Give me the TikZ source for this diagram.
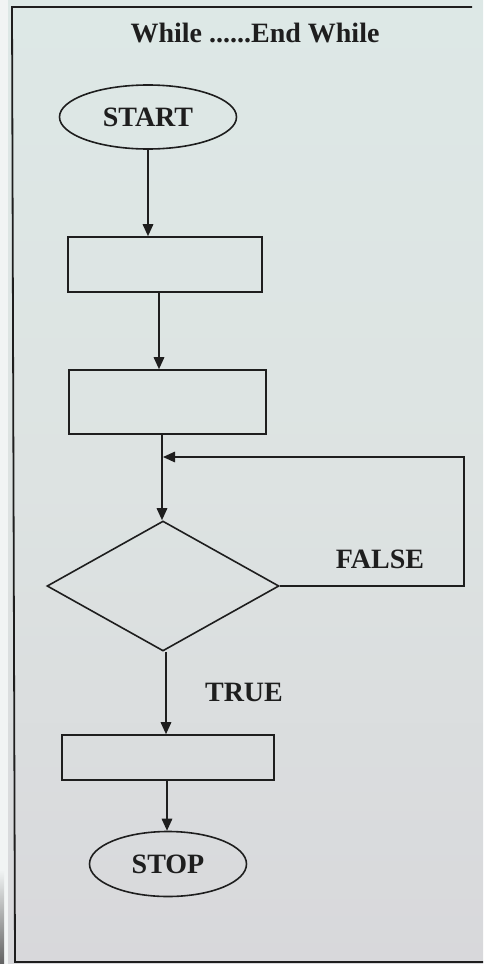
\documentclass[tikz,border=0pt]{standalone}
\usepackage{fontspec}
\setmainfont{Liberation Serif}
\usetikzlibrary{shapes.geometric,arrows.meta,calc}

\definecolor{ink}{HTML}{1E1E1E}
\definecolor{paperTop}{HTML}{DDE8E6}
\definecolor{paperMid}{HTML}{DDE3E2}
\definecolor{paperBot}{HTML}{D8D8DB}
\definecolor{margin}{HTML}{F1F4F4}

\tikzset{
  flow/.style={draw=ink, line width=1.6pt},
  arr/.style={draw=ink, line width=1.6pt, -{Triangle[length=12pt,width=10.5pt]}},
  terminal/.style={flow, ellipse, inner sep=0pt, font=\bfseries\fontsize{28}{30}\selectfont, text=ink},
  procbox/.style={flow, rectangle, inner sep=0pt},
  decision/.style={flow, diamond, inner sep=0pt},
  label/.style={font=\bfseries\fontsize{28}{30}\selectfont, text=ink, inner sep=0pt},
  frame/.style={draw=ink, line width=1.8pt}
}

\begin{document}
\begin{tikzpicture}[x=1pt,y=-1pt]
  % page area
  \useasboundingbox (0,0) rectangle (483,964);
  \fill[margin] (0,0) rectangle (483,964);
  \shade[top color=paperTop, bottom color=paperBot, middle color=paperMid] (8,0) rectangle (483,964);
  \shade[top color=margin, bottom color=ink!70] (0,870) rectangle (4,964);

  % printed frame
  \coordinate (ftl) at (12,7);
  \coordinate (ftr) at (472,7);
  \coordinate (fbl) at (15,962);
  \coordinate (fbr) at (483,962);
  \draw[frame] (ftr) -- (ftl) -- (fbl) -- (fbr);

  % title
  \node[label] (title) at (255,33) {While ......End While};

  % flowchart nodes
  \node[terminal, minimum width=177pt, minimum height=64pt] (start) at (148,117) {START};
  \node[procbox, minimum width=194pt, minimum height=55pt] (box1) at (165,264.5) {};
  \node[procbox, minimum width=197pt, minimum height=64pt] (box2) at (167.5,402) {};
  \node[decision, minimum width=232pt, minimum height=130pt] (cond) at (163,586) {};
  \node[procbox, minimum width=212pt, minimum height=45pt] (box3) at (168,757.5) {};
  \node[terminal, minimum width=157pt, minimum height=65pt] (stop) at (168,864) {STOP};

  % branch labels
  \node[label] (false) at (380,559) {FALSE};
  \node[label] (true) at (244,692) {TRUE};

  % loop helper points
  \coordinate (loopR) at (464,457);
  \coordinate (join) at (162,457);

  % connectors
  \draw[arr] (start.south) -- (start.south |- box1.north);
  \draw[arr] ([xshift=-6pt]box1.south) -- ([xshift=-6pt]box1.south |- box2.north);
  \draw[arr] ([xshift=-5.5pt]box2.south) -- ([xshift=-5.5pt]box2.south |- cond.north);
  \draw[arr] (cond.east) -- (cond.east -| loopR) -- (loopR) -- ([xshift=1pt]join);
  \draw[arr] ([xshift=3pt]cond.south) -- ([xshift=3pt]cond.south |- box3.north);
  \draw[arr] ([xshift=-1pt]box3.south) -- ([xshift=-1pt]box3.south |- stop.north);
\end{tikzpicture}
\end{document}
